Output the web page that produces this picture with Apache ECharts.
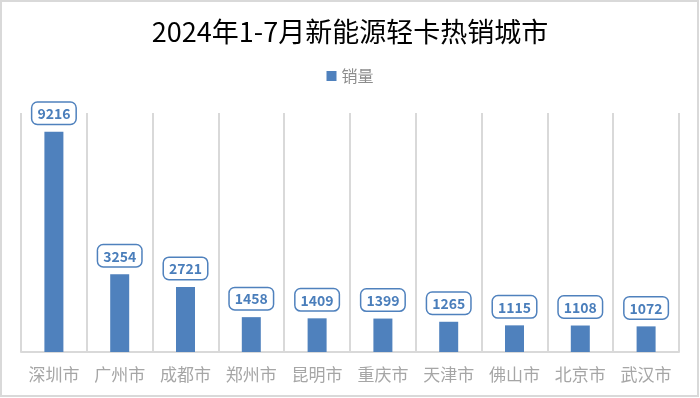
<!DOCTYPE html>
<html>
<head>
<meta charset="utf-8">
<script src="https://cdn.jsdelivr.net/npm/echarts@6/dist/echarts.min.js"></script>
<style>
  html, body { margin: 0; padding: 0; background: #fff; }
  #chart { width: 700px; height: 398px; }
</style>
</head>
<body>
<div id="chart"></div>
<script>
// 城市与销量
var cities = ['深圳市', '广州市', '成都市', '郑州市', '昆明市', '重庆市', '天津市', '佛山市', '北京市', '武汉市'];
var sales = [9216, 3254, 2721, 1458, 1409, 1399, 1265, 1115, 1108, 1072];

var myChart = echarts.init(document.getElementById('chart'));
var option = {
  backgroundColor: '#fff',
  animation: false,
  title: {
    text: '2024年1-7月新能源轻卡热销城市',
    left: 'center',
    top: 13,
    textStyle: {
      fontFamily: 'Noto Sans CJK SC',
      fontSize: 27,
      fontWeight: 'normal',
      color: '#000'
    }
  },
  legend: {
    data: [{ name: '销量', icon: 'rect' }],
    left: 'center',
    top: 63,
    itemWidth: 10,
    itemHeight: 10,
    itemGap: 6,
    textStyle: {
      fontFamily: 'Noto Sans CJK SC',
      fontSize: 16,
      color: '#8c8c8c'
    }
  },
  graphic: [{
    type: 'rect',
    shape: { x: 1, y: 1, width: 697, height: 395 },
    style: { fill: 'none', stroke: '#d9d9d9', lineWidth: 2 },
    silent: true
  }],
  grid: {
    left: 21,
    right: 21,
    top: 113,
    bottom: 46
  },
  xAxis: {
    type: 'category',
    data: cities,
    axisLine: { lineStyle: { color: '#d9d9d9', width: 2 } },
    axisTick: { show: false },
    axisLabel: {
      interval: 0,
      margin: 14,
      fontFamily: 'Noto Sans CJK SC',
      fontSize: 17,
      color: '#a6a6a6'
    },
    splitLine: {
      show: true,
      interval: 0,
      lineStyle: { color: '#d9d9d9', width: 2 }
    }
  },
  yAxis: {
    type: 'value',
    min: 0,
    max: 10000,
    show: false,
    splitLine: { show: false }
  },
  series: [{
    name: '销量',
    type: 'bar',
    data: sales,
    barWidth: 19,
    itemStyle: { color: '#4F81BD' },
    label: {
      show: true,
      position: 'top',
      distance: 8,
      fontFamily: 'Noto Sans CJK SC',
      fontSize: 14,
      fontWeight: 'bold',
      color: '#4A7EBB',
      backgroundColor: '#fff',
      borderColor: '#4F81BD',
      borderWidth: 1.5,
      borderRadius: 5,
      padding: [4, 5, 3, 5]
    }
  }]
};
myChart.setOption(option);
</script>
</body>
</html>
